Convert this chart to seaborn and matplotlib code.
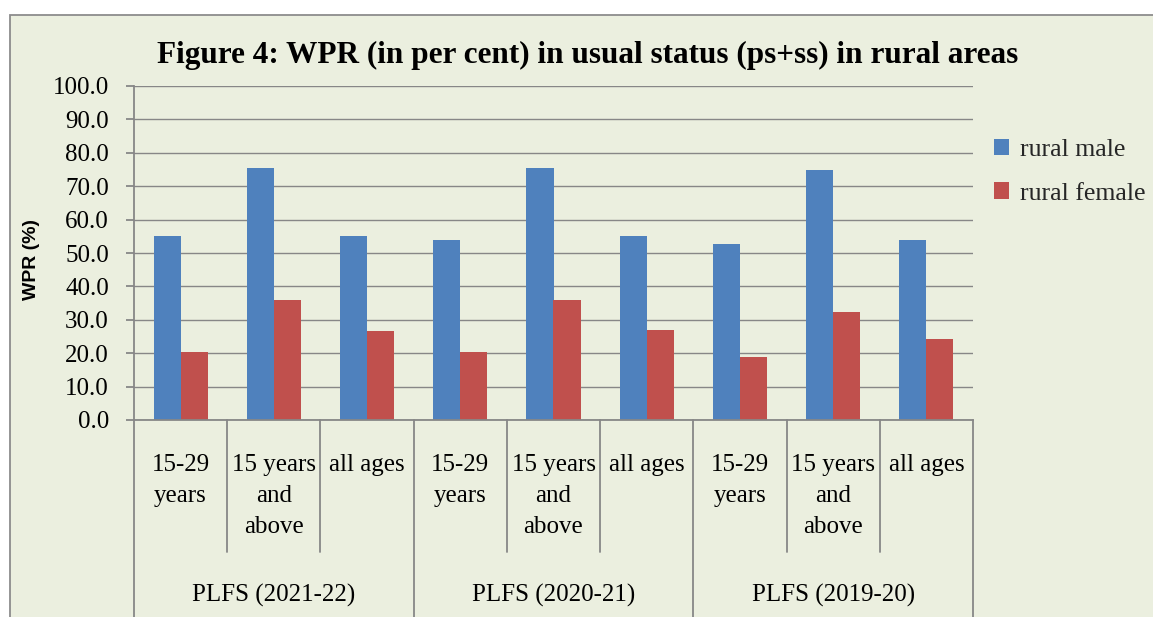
import matplotlib
matplotlib.use("Agg")
import matplotlib.pyplot as plt
import seaborn as sns
import pandas as pd
import numpy as np
from matplotlib.patches import Rectangle
from matplotlib.lines import Line2D
from matplotlib.transforms import blended_transform_factory

# ---- data ----
groups = ["PLFS (2021-22)", "PLFS (2020-21)", "PLFS (2019-20)"]
age_labels = ["15-29\nyears", "15 years\nand\nabove", "all ages"]
series = ["rural male", "rural female"]
male = [55.0, 75.3, 55.0, 53.9, 75.3, 55.0, 52.7, 74.9, 53.9]
female = [20.4, 35.9, 26.6, 20.4, 35.9, 26.9, 18.9, 32.3, 24.3]
yticks = [0, 10, 20, 30, 40, 50, 60, 70, 80, 90, 100]
title = "Figure 4: WPR (in per cent) in usual status (ps+ss) in rural areas"
ylabel = "WPR (%)"

colors = ["#4F81BD", "#C0504D"]
bg = "#EBEFDF"
gray = "#878787"

W, H = 1153, 617

sns.set_theme(style="white")
plt.rcParams['font.family'] = ['Liberation Serif', 'DejaVu Serif']

cats = [f"{g}|{a}" for g in groups for a in age_labels]
df = pd.DataFrame({
    "cat": cats * 2,
    "value": male + female,
    "series": [series[0]] * len(cats) + [series[1]] * len(cats),
})

fig = plt.figure(figsize=(W / 100, H / 100), dpi=100)
fig.patch.set_facecolor("white")
fig.add_artist(Rectangle((10 / W, -0.05), 1.2, (H - 15) / H + 0.05,
                         transform=fig.transFigure, facecolor=bg,
                         edgecolor="#8C8C8C", lw=1.3, zorder=0))

ax = fig.add_axes([134 / W, (H - 420) / H, (973 - 134) / W, (420 - 86) / H])
ax.set_facecolor("none")

sns.barplot(data=df, x="cat", y="value", hue="series", order=cats,
            hue_order=series, palette=colors, saturation=1, width=0.58,
            linewidth=0, ax=ax)

ax.set_ylim(0, 100)
ax.set_xlim(-0.5, len(cats) - 0.5)
ax.set_yticks(yticks)
ax.set_yticklabels([f"{v:.1f}" for v in yticks])
ax.grid(axis="y", color=gray, lw=1.0)
ax.set_axisbelow(True)
for s in ["top", "right"]:
    ax.spines[s].set_visible(False)
for s in ["left", "bottom"]:
    ax.spines[s].set_color(gray)
    ax.spines[s].set_linewidth(1.3)
ax.tick_params(axis="y", length=6, width=1.3, color=gray, pad=12,
               labelsize=18, labelcolor="black", left=True)
ax.set_xticks(range(len(cats)))
ax.set_xticklabels([""] * len(cats))
ax.tick_params(axis="x", length=0)
ax.set_xlabel("")
ax.set_ylabel(ylabel, fontfamily=["Liberation Sans", "DejaVu Sans"],
              fontweight="bold", fontsize=14, color="black")
ax.yaxis.set_label_coords(-0.112, 0.48)

trans = blended_transform_factory(ax.transData, fig.transFigure)
for k in range(len(cats) + 1):
    b = k - 0.5
    y1 = -0.01 if k % 3 == 0 else (H - 552) / H
    fig.add_artist(Line2D([b, b], [(H - 420) / H, y1], transform=trans,
                          color=gray, lw=1.3))

for i, c in enumerate(cats):
    lab = age_labels[i % 3]
    ax.text(i, (H - 454) / H, lab, transform=trans, ha="center", va="top",
            fontsize=18, linespacing=1.52, color="black")
for g, name in enumerate(groups):
    ax.text(3 * g + 1, (H - 595) / H, name, transform=trans, ha="center",
            va="center", fontsize=18, color="black")

fig.text(588 / W, (H - 55) / H, title, ha="center", va="center",
         fontsize=22.5, fontweight="bold", color="black")

handles, labels = ax.get_legend_handles_labels()
ax.legend(handles, labels, loc="upper left",
          bbox_to_anchor=(994 / W, (H - 139) / H), bbox_transform=fig.transFigure,
          frameon=False, fontsize=18.5, handlelength=0.6, handleheight=0.6,
          handletextpad=0.4, labelspacing=0.82, borderaxespad=0, borderpad=0)

fig.savefig("out.png", dpi=100, facecolor="white")
